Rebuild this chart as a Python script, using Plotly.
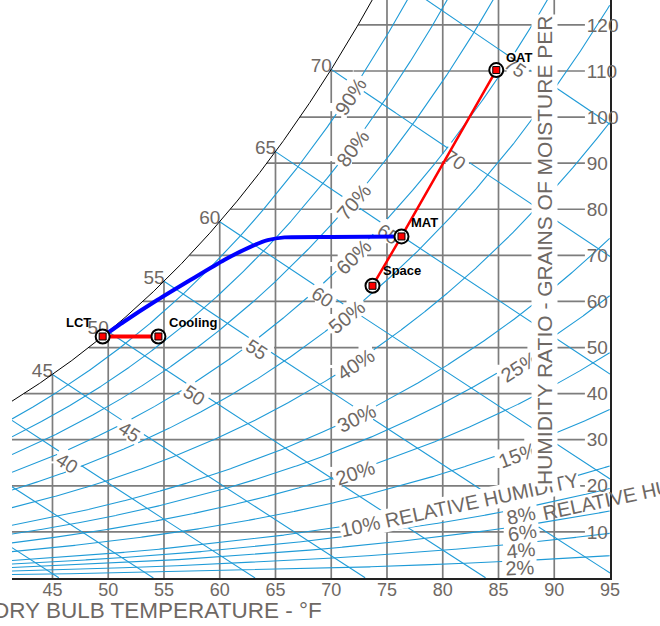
import math
import numpy as np
import plotly.graph_objects as go

# ------------------------------------------------------------------
# Air states (dry bulb °F, humidity ratio in grains per lb of dry air)
# ------------------------------------------------------------------
state_names = ["OAT", "MAT", "Space", "LCT", "Cooling"]
state_db = [84.8, 76.3, 73.7, 49.5, 54.5]
state_gr = [110.2, 74.1, 63.4, 52.4, 52.4]

mix_names = ["OAT", "MAT", "Space"]      # mixing line
coil_names = ["LCT", "Cooling"]          # coil line

# process path from the leaving-coil state up to the mixed-air state
path_db = [49.5, 51.4, 54.4, 57.4, 60.4, 62.8, 64.3, 65.8, 70.0, 76.3]
path_gr = [52.4, 55.6, 60.3, 64.7, 69.0, 71.9, 73.3, 73.9, 74.0, 74.1]

# chart scaffolding
db_ticks = [45, 50, 55, 60, 65, 70, 75, 80, 85, 90, 95]
gr_ticks = [10, 20, 30, 40, 50, 60, 70, 80, 90, 100, 110, 120]
rh_levels = [2, 4, 6, 8, 10, 15, 20, 25, 30, 40, 50, 60, 70, 80, 90]
wb_levels = [30, 35, 40, 45, 50, 55, 60, 65, 70, 75]
wb_labels = [40, 45, 50, 55, 60, 65, 70, 75]
sat_labels = [45, 50, 55, 60, 65, 70]

# where along each curve its label sits (dry bulb, °F)
rh_label_at = {90: 71.6, 80: 71.8, 70: 71.9, 60: 71.9, 50: 71.3, 40: 72.1,
               30: 72.2, 20: 72.1, 25: 86.8, 15: 86.7, 8: 87.0, 6: 87.1,
               4: 87.0, 2: 86.9}
wb_label_at = {40: 46.4, 45: 52.0, 50: 57.8, 55: 63.4, 60: 69.3, 65: 75.2,
               70: 81.2, 75: 86.6}

FONT = "Liberation Sans, Arial, sans-serif"
GREY = "#6e6864"
GRID = "#7d7d7d"
BLUE_LINE = "#1f9bd7"

# ------------------------------------------------------------------
# Psychrometric relations (sea level)
# ------------------------------------------------------------------
P_ATM = 14.696


def p_ws(t):
    T = np.asarray(t, float) + 459.67
    return np.exp(-1.0440397e4 / T - 11.29465 - 2.7022355e-2 * T
                  + 1.289036e-5 * T ** 2 - 2.4780681e-9 * T ** 3
                  + 6.5459673 * np.log(T))


def w_rh(t, rh):
    pw = rh / 100.0 * p_ws(t)
    return 7000.0 * 0.621945 * pw / (P_ATM - pw)


def w_wb(t, twb):
    ws = w_rh(twb, 100) / 7000.0
    t = np.asarray(t, float)
    return 7000.0 * ((1093.0 - 0.556 * twb) * ws - 0.240 * (t - twb)) / (
        1093.0 + 0.444 * t - twb)


def t_sat(w):
    lo, hi = 0.0, 130.0
    for _ in range(60):
        mid = 0.5 * (lo + hi)
        if w_rh(mid, 100) < w:
            lo = mid
        else:
            hi = mid
    return 0.5 * (lo + hi)


# ------------------------------------------------------------------
# Plot geometry
# ------------------------------------------------------------------
X0, X1 = 41.37, 95.0
Y0, Y1 = 0.0, 125.4
ML, MR, MT, MB = 12, 50, 0, 48
FW, FH = 660, 626
PW, PH = FW - ML - MR, FH - MT - MB


def to_px(t, w):
    t = np.asarray(t, float)
    w = np.asarray(w, float)
    return ML + (t - X0) / (X1 - X0) * PW, MT + (Y1 - w) / (Y1 - Y0) * PH


def screen_angle(f, t):
    xa, ya = to_px(t - 0.3, f(t - 0.3))
    xb, yb = to_px(t + 0.3, f(t + 0.3))
    return math.degrees(math.atan2(float(yb - ya), float(xb - xa)))


CHAR_W = {**{d: 0.556 for d in "0123456789"}, "%": 0.889, " ": 0.278}


def text_width(s, size):
    return size * sum(CHAR_W.get(c, 0.65) for c in s)


# white knockout boxes around labels so the chart lines stop short of them
boxes = []


def add_box(t, w, angle, text, size, pad=2.5):
    cx, cy = to_px(t, w)
    boxes.append((float(cx), float(cy), math.radians(angle),
                  text_width(text, size) / 2 + pad, 0.38 * size + pad))


def knock(ts, ws):
    ts = np.asarray(ts, float)
    ws = np.array(ws, float)
    x, y = to_px(ts, ws)
    hit = np.zeros(ts.shape, bool)
    for cx, cy, a, hw, hh in boxes:
        dx, dy = x - cx, y - cy
        u = dx * math.cos(a) + dy * math.sin(a)
        v = -dx * math.sin(a) + dy * math.cos(a)
        hit |= (np.abs(u) < hw) & (np.abs(v) < hh)
    ws[hit] = np.nan
    return ts, ws


def join(segments):
    xs, ys = [], []
    for t, w in segments:
        t, w = knock(t, w)
        xs += [t, [np.nan]]
        ys += [w, [np.nan]]
    return np.concatenate(xs), np.concatenate(ys)


def label_shape(t, w, text, size, angle):
    return dict(type="rect", xref="x", yref="y", x0=t, x1=t + 1e-6,
                y0=w, y1=w + 1e-6, line=dict(width=0),
                fillcolor="rgba(0,0,0,0)", layer="below",
                label=dict(text=text, font=dict(family=FONT, size=size, color=GREY),
                           textangle=angle, textposition="middle center",
                           xanchor="center", yanchor="middle", padding=0))


RH_SIZE, WB_SIZE, SAT_SIZE = 20, 19, 19
shapes = []

# relative-humidity labels
for rh in rh_levels:
    if rh == 10:
        continue
    t = rh_label_at[rh]
    w = float(w_rh(t, rh)) + (-1.1 if t > 80 else 0.0)
    ang = screen_angle(lambda tt, r=rh: w_rh(tt, r), t)
    txt = f"{rh}%"
    add_box(t, w, ang, txt, RH_SIZE)
    shapes.append(label_shape(t, w, txt, RH_SIZE, ang))

# wet-bulb labels along their lines
for v in wb_labels:
    t = wb_label_at[v]
    w = float(w_wb(t, v)) - 1.0
    ang = screen_angle(lambda tt, b=v: w_wb(tt, b), t)
    add_box(t, w, ang, str(v), WB_SIZE)
    shapes.append(label_shape(t, w, str(v), WB_SIZE, ang))

# wet-bulb temperatures marked on the saturation curve
for v in sat_labels:
    shapes.append(label_shape(v - 0.9, float(w_rh(v, 100)) + 1.3, str(v), SAT_SIZE, 0))

# ------------------------------------------------------------------
# Chart lines
# ------------------------------------------------------------------
t_top = t_sat(Y1)
grid_segments = []
for t in db_ticks[:-1]:
    top = min(float(w_rh(t, 100)), Y1)
    grid_segments.append((np.full(500, float(t)), np.linspace(0, top, 500)))
for g in gr_ticks:
    grid_segments.append((np.linspace(t_sat(g), 92.75, 700), np.full(700, float(g))))
gx, gy = join(grid_segments)

tt = np.arange(X0, X1 + 0.001, 0.04)
rh_segments = [(tt, w_rh(tt, rh)) for rh in rh_levels]
rx, ry = join(rh_segments)

wb_segments = []
for v in wb_levels:
    t = np.arange(max(v, X0), X1 + 0.001, 0.04)
    w = w_wb(t, v)
    keep = w >= 0
    wb_segments.append((t[keep], w[keep]))
wx, wy = join(wb_segments)

ts_sat = np.linspace(X0, t_top + 0.3, 400)
ws_sat = w_rh(ts_sat, 100)

fig = go.Figure()
fig.add_trace(go.Scatter(x=gx, y=gy, mode="lines", line=dict(color=GRID, width=1.7),
                         hoverinfo="skip"))
fig.add_trace(go.Scatter(x=rx, y=ry, mode="lines", line=dict(color=BLUE_LINE, width=1.1),
                         hoverinfo="skip"))
fig.add_trace(go.Scatter(x=wx, y=wy, mode="lines", line=dict(color=BLUE_LINE, width=1.1),
                         hoverinfo="skip"))
fig.add_trace(go.Scatter(x=ts_sat, y=ws_sat, mode="lines", line=dict(color="black", width=1),
                         hoverinfo="skip"))

# ------------------------------------------------------------------
# Process lines and state points
# ------------------------------------------------------------------
idx = {n: i for i, n in enumerate(state_names)}
fig.add_trace(go.Scatter(x=path_db, y=path_gr, mode="lines",
                         line=dict(color="#0000ff", width=4, shape="spline", smoothing=0.6)))
fig.add_trace(go.Scatter(x=[state_db[idx[n]] for n in mix_names],
                         y=[state_gr[idx[n]] for n in mix_names],
                         mode="lines", line=dict(color="#ff0000", width=2.5)))
fig.add_trace(go.Scatter(x=[state_db[idx[n]] for n in coil_names],
                         y=[state_gr[idx[n]] for n in coil_names],
                         mode="lines", line=dict(color="#ff0000", width=4)))
fig.add_trace(go.Scatter(x=state_db, y=state_gr, mode="markers",
                         marker=dict(symbol="circle", size=14, color="white",
                                     line=dict(color="black", width=2))))
fig.add_trace(go.Scatter(x=state_db, y=state_gr, mode="markers",
                         marker=dict(symbol="square", size=7, color="#ff0000",
                                     line=dict(color="black", width=1))))

annotations = []

# 10% curve caption
t10 = 81.5
ang10 = screen_angle(lambda q: w_rh(q, 10), t10)
annotations.append(dict(x=t10, y=float(w_rh(t10, 10)), xref="x", yref="y",
                        text="10% RELATIVE HUMIDITY", showarrow=False,
                        textangle=ang10, bgcolor="white", borderpad=0,
                        xanchor="center", yanchor="middle",
                        font=dict(family=FONT, size=20, color=GREY)))
annotations.append(dict(x=(639 - ML) / PW, y=(FH - MB - 493) / PH, xref="paper", yref="paper",
                        text="RELATIVE HUMIDITY", showarrow=False, textangle=-12,
                        xanchor="center", yanchor="middle",
                        font=dict(family=FONT, size=20, color=GREY)))
# axis titles
annotations.append(dict(x=(544 - ML) / PW, y=(FH - MB - 251) / PH, xref="paper", yref="paper",
                        text="HUMIDITY RATIO - GRAINS OF MOISTURE PER", showarrow=False,
                        textangle=-90, bgcolor="white", borderpad=1,
                        xanchor="center", yanchor="middle",
                        font=dict(family=FONT, size=21, color=GREY)))
annotations.append(dict(x=(324 - ML) / PW, y=(FH - MB - 610) / PH, xref="paper", yref="paper",
                        text="DRY BULB TEMPERATURE - °F", showarrow=False,
                        xanchor="right", yanchor="middle",
                        font=dict(family=FONT, size=22.5, color=GREY)))

# state point names drawn last so they sit on top
label_shift = {"OAT": (23, 13), "MAT": (23, 14), "Space": (30, 15),
               "LCT": (-24, 14), "Cooling": (35, 14)}
for n, t, w in zip(state_names, state_db, state_gr):
    dx, dy = label_shift[n]
    annotations.append(dict(x=t, y=w, xref="x", yref="y", text=f"<b>{n}</b>",
                            showarrow=False, xshift=dx, yshift=dy,
                            xanchor="center", yanchor="middle",
                            font=dict(family=FONT, size=13, color="black")))

fig.update_layout(
    width=FW, height=FH, margin=dict(l=ML, r=MR, t=MT, b=MB),
    paper_bgcolor="white", plot_bgcolor="white", showlegend=False,
    shapes=shapes, annotations=annotations,
    xaxis=dict(range=[X0, X1], tickvals=db_ticks, showgrid=False, zeroline=False,
               showline=True, linecolor="#222222", linewidth=2, ticks="",
               ticklabelstandoff=-6,
               tickfont=dict(family=FONT, size=18, color=GREY), fixedrange=True),
    yaxis=dict(range=[Y0, Y1], side="right", tickvals=gr_ticks, showgrid=False,
               zeroline=False, showline=True, linecolor="#222222", linewidth=2,
               ticks="", ticklabelstandoff=-29,
               tickfont=dict(family=FONT, size=19, color=GREY), fixedrange=True),
)

fig.write_html("out.html")
